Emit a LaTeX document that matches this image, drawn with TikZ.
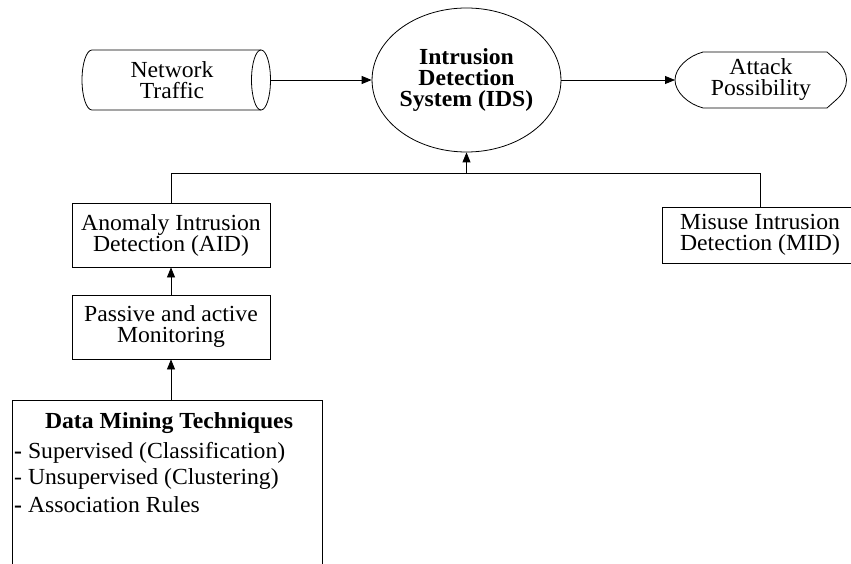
\documentclass[tikz,border=0pt]{standalone}
\usepackage{fontspec}
\setmainfont[FakeStretch=1.03]{Liberation Serif}
\usetikzlibrary{shapes.geometric,arrows.meta}
\tikzset{
  txt/.style={font=\fontsize{23}{21}\selectfont, align=center, inner sep=0pt},
  box/.style={txt, draw, line width=0.8pt, rectangle},
  arr/.style={line width=0.8pt, -{Triangle[length=10pt,width=8pt]}},
  ln/.style={line width=0.8pt},
  item/.style={font=\fontsize{23}{21}\selectfont, anchor=west, inner sep=0pt}
}
\begin{document}
\begin{tikzpicture}[x=1pt,y=-1pt]
\useasboundingbox (0,0) rectangle (851,564);
% Network traffic (cylinder)
\node[txt, minimum width=188pt, minimum height=60pt] (nt) at (172,80) {Network\\Traffic};
\draw[ln] (261,50) -- (92,50) arc[start angle=90, end angle=270, x radius=10pt, y radius=30pt] -- (261,110);
\draw[ln] (261,80) ellipse[x radius=9.5pt, y radius=30pt];
\coordinate (ntE) at (270.5,80);
% IDS
\node[txt, draw, ln, ellipse, minimum width=184pt, minimum height=144pt, font=\fontsize{23}{21}\selectfont\bfseries] (ids) at (466.5,80) {Intrusion\\Detection\\System (IDS)};
% Attack possibility
\node[txt, minimum width=174pt, minimum height=56pt] (ap) at (761,80) {Attack\\Possibility};
\draw[ln] (703,52) -- (827,52) -- (836,60) .. controls (850,72) and (850,88) .. (836,100) -- (827,108) -- (703,108)
  .. controls (688,104) and (675,92) .. (675,80) .. controls (675,68) and (688,56) .. (703,52) -- cycle;
\coordinate (apW) at (675,80);
% boxes
\node[box, minimum width=198pt, minimum height=64pt] (aid) at (171,235) {Anomaly Intrusion\\Detection (AID)};
\node[box, minimum width=198pt, minimum height=64pt] (pm) at (171,327) {Passive and active\\Monitoring};
\node[box, minimum width=196pt, minimum height=56pt] (mid) at (760,235) {Misuse Intrusion\\Detection (MID)};
% data mining box
\coordinate (dmbl) at (12,575);
\coordinate (dmtl) at (12,400);
\coordinate (dmtr) at (322,400);
\coordinate (dmbr) at (322,575);
\coordinate (dmtop) at (171,400);
\draw[ln] (dmbl) -- (dmtl) -- (dmtr) -- (dmbr);
\node[txt, font=\fontsize{23}{21}\selectfont\bfseries] (dmt) at (169,423) {Data Mining Techniques};
\node[item] (i1) at (14,453) {\textbf{-} Supervised (Classification)};
\node[item] (i2) at (14,479) {- Unsupervised (Clustering)};
\node[item] (i3) at (14,505) {\textbf{-} Association Rules};
% connectors
\coordinate (busL) at (171,173);
\coordinate (busM) at (466.5,173);
\coordinate (busR) at (760,173);
\draw[arr] (ntE) -- (ids.west);
\draw[arr] (ids.east) -- (apW);
\draw[ln] (aid.north) -- (busL) -- (busR) -- (mid.north);
\draw[arr] (busM) -- (ids.south);
\draw[arr] (pm.north) -- (aid.south);
\draw[arr] (dmtop) -- (pm.south);
\end{tikzpicture}
\end{document}
